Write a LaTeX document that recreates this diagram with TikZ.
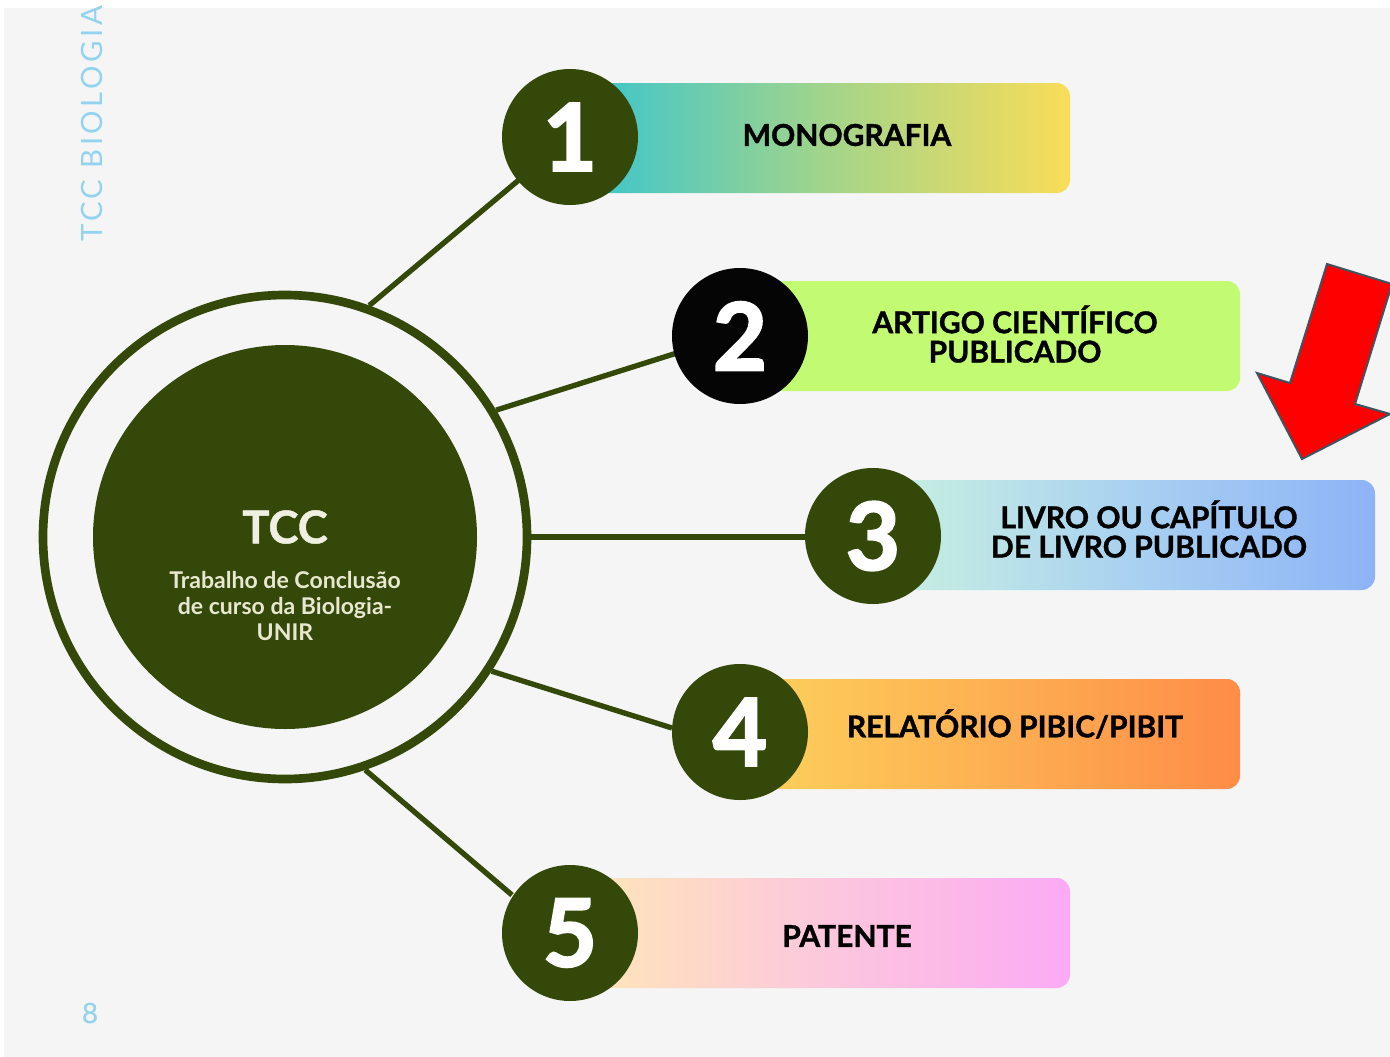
\documentclass[tikz,border=0pt]{standalone}
\usepackage{fontspec}
\setmainfont{Lato}
\definecolor{tccgreen}{RGB}{52,72,9}
\definecolor{bggray}{RGB}{245,245,245}
\definecolor{sideblue}{RGB}{147,211,239}
\definecolor{cream}{RGB}{240,240,226}
\definecolor{creamb}{RGB}{232,232,208}
\definecolor{arrowedge}{RGB}{61,85,96}
\tikzset{
  numcirc/.style={circle, fill=tccgreen, minimum size=102pt, inner sep=0pt, text=white,
    font=\fontsize{70}{70}\selectfont\bfseries\addfontfeatures{FakeBold=2.5}},
  barbox/.style={rectangle, rounded corners=10pt, minimum height=82.5pt, inner sep=0pt, draw=none},
  bartext/.style={font=\fontsize{22.5}{22}\selectfont\bfseries\addfontfeatures{FakeBold=1.2}, align=center, text=black, inner sep=0pt},
  link/.style={draw=tccgreen, line width=4pt},
  sidetext/.style={text=sideblue, inner sep=0pt}
}
\begin{document}
\begin{tikzpicture}[x=0.75pt,y=-0.75pt]
\useasboundingbox (0,0) rectangle (1390,1057);
\fill[white] (0,0) rectangle (1390,1057);
\fill[bggray] (4,8) rectangle (1390,1057);

% side texts
\node[sidetext, rotate=90, anchor=base west, font=\fontsize{22}{22}\selectfont\addfontfeatures{LetterSpace=12}] (side) at (102,242) {TCC BIOLOGIA};
\node[sidetext, font=\fontsize{21}{21}\selectfont\addfontfeatures{FakeBold=0.6}] (page) at (90,1013) {8};

% central nodes
\node[circle, draw=tccgreen, line width=6.5pt, minimum size=363pt, inner sep=0pt] (ring) at (285,537) {};
\node[circle, fill=tccgreen, minimum size=288pt, inner sep=0pt] (core) at (285,537) {};

% number circle centres
\coordinate (c1) at (570,137);
\coordinate (c2) at (740,336);
\coordinate (c3) at (873,536);
\coordinate (c4) at (740,732);
\coordinate (c5) at (570,933);

% connectors
\draw[link] (ring.70) -- (c1);
\draw[link] (ring.31.5) -- ([shift={(-60,16)}]c2);
\draw[link] (ring.0) -- (ring.0 -| c3);
\draw[link] (ring.-33) -- ([shift={(-68,-4)}]c4);
\draw[link] (ring.-71) -- ([shift={(-58,-38)}]c5);

% bars
\node[barbox, minimum width=375pt, left color={rgb,255:red,52;green,196;blue,210}, right color={rgb,255:red,249;green,221;blue,88}, middle color={rgb,255:red,160;green,212;blue,140}] (b1) at (820,138) {};
\node[barbox, minimum width=375pt, fill={rgb,255:red,194;green,251;blue,114}] (b2) at (990,336) {};
\node[barbox, minimum width=376.5pt, left color={rgb,255:red,202;green,242;blue,224}, right color={rgb,255:red,141;green,179;blue,247}, middle color={rgb,255:red,170;green,210;blue,240}] (b3) at (1124,535) {};
\node[barbox, minimum width=375pt, left color={rgb,255:red,253;green,210;blue,92}, right color={rgb,255:red,254;green,140;blue,72}, middle color={rgb,255:red,253;green,176;blue,82}] (b4) at (990,734) {};
\node[barbox, minimum width=375pt, left color={rgb,255:red,255;green,232;blue,182}, right color={rgb,255:red,251;green,170;blue,244}, middle color={rgb,255:red,252;green,200;blue,220}] (b5) at (820,933) {};

% number circles
\node[numcirc] (n1) at (c1) {1};
\node[numcirc, fill={rgb,255:red,5;green,5;blue,5}] (n2) at (c2) {2};
\node[numcirc] (n3) at (c3) {3};
\node[numcirc] (n4) at (c4) {4};
\node[numcirc] (n5) at (c5) {5};

% bar labels
\node[bartext] (t1) at (847,135) {MONOGRAFIA};
\node[bartext] (t2) at (1015,334) {ARTIGO CIENTÍFICO\\PUBLICADO};
\node[bartext] (t3) at (1149,529) {LIVRO OU CAPÍTULO\\DE LIVRO PUBLICADO};
\node[bartext] (t4) at (1015,724) {RELATÓRIO PIBIC/PIBIT};
\node[bartext] (t5) at (847,936) {PATENTE};

% centre text
\node[text=cream, font=\fontsize{34}{34}\selectfont\bfseries\addfontfeatures{FakeBold=1}, inner sep=0pt] (tcc) at (285,527) {TCC};
\node[text=creamb, font=\fontsize{17.3}{19.5}\selectfont\bfseries, align=center, inner sep=0pt] (sub) at (285,606) {Trabalho de Conclusão\\de curso da Biologia-\\UNIR};

% red arrow
\draw[fill=red, draw=arrowedge, line width=1.5pt, line join=miter]
  (1327,264) -- (1392,284) -- (1355,404) -- (1390,414) -- (1302,459) -- (1257,373) -- (1290,383) -- cycle;
\end{tikzpicture}
\end{document}
